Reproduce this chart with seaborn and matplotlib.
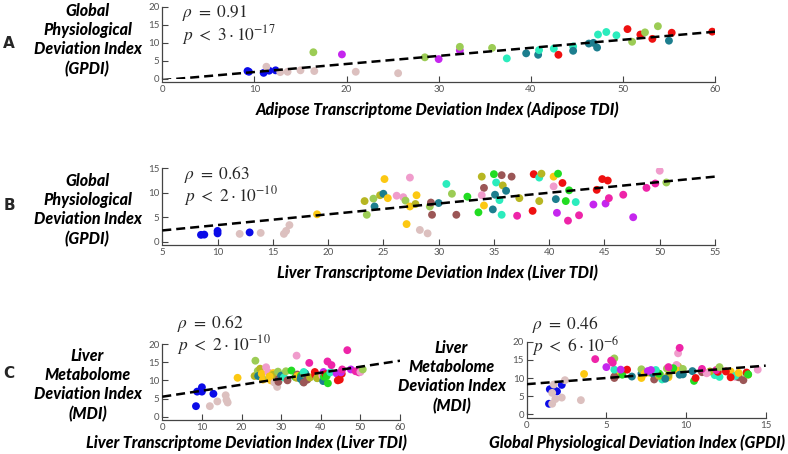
import matplotlib
matplotlib.use("Agg")
import matplotlib.pyplot as plt
import numpy as np
import pandas as pd
import seaborn as sns

# colour of each sample group
palette = {
    "blue": "#0b0be8",
    "rosy": "#dcc0bf",
    "ygreen": "#9ccc55",
    "purple": "#c526ee",
    "cyan": "#2becbd",
    "teal": "#1c7e8e",
    "red": "#ee1010",
    "gold": "#fcc812",
    "olive": "#b7b622",
    "brown": "#9b5656",
    "green": "#22dc22",
    "hpink": "#ee24a8",
    "lpink": "#f09ccc",
}

# Panel A: adipose TDI vs GPDI
adipose_tdi = [9.25, 9.4, 11.0, 11.6, 12.3, 11.3, 12.8, 13.6, 15.0, 16.5, 21.0, 25.6,
               16.4, 19.5, 28.5, 30.0, 32.3, 32.3, 35.8, 37.4, 39.5, 40.8, 40.9, 42.5,
               43.0, 44.6, 44.6, 46.3, 46.8, 47.2, 47.3, 48.2, 49.3, 50.5, 51.9, 52.4,
               51.0, 53.2, 53.8, 55.3, 55.0, 59.7]
adipose_gpdi = [2.2, 2.0, 1.7, 2.3, 2.4, 3.4, 1.9, 2.0, 2.4, 2.2, 2.0, 1.6,
                7.4, 6.8, 6.0, 5.5, 7.9, 8.9, 8.6, 5.7, 7.1, 6.7, 8.0, 8.4,
                6.7, 9.0, 7.8, 9.8, 10.0, 8.7, 12.3, 13.0, 12.1, 13.8, 12.3, 12.9,
                10.3, 11.1, 14.6, 12.8, 10.6, 13.1]
adipose_group = ["blue"] * 5 + ["rosy"] * 7 + [
    "ygreen", "purple", "ygreen", "purple", "purple", "ygreen", "ygreen", "cyan",
    "teal", "teal", "cyan", "cyan", "red", "cyan", "teal", "teal", "teal", "teal",
    "cyan", "cyan", "cyan", "red", "red", "ygreen", "ygreen", "red", "ygreen",
    "red", "teal", "red"]

# Panels B and C: liver samples (Liver TDI, GPDI, MDI)
liver_tdi = [8.5, 8.8, 10.0, 10.0, 12.0, 12.9, 13.9, 16.0, 16.2, 16.5,
             19.0, 23.3, 23.5, 24.1, 24.2, 24.7, 25.0, 25.1, 25.4, 26.2,
             26.8, 27.0, 27.4, 27.4, 28.0, 27.9, 27.1, 28.3, 29.0, 29.2,
             29.3, 29.4, 30.0, 30.7, 31.2, 31.6, 32.6, 33.6, 33.9, 34.1,
             33.9, 34.1, 35.0, 35.1, 35.2, 35.5, 34.9, 35.7, 35.8, 36.1,
             35.7, 36.6, 37.1, 37.3, 38.6, 38.5, 39.1, 39.3, 39.1, 40.4,
             40.4, 40.6, 40.7, 40.8, 41.2, 41.8, 41.5, 41.7, 42.4, 42.7,
             44.0, 44.3, 44.8, 45.3, 45.1, 45.4, 46.7, 47.6, 48.8, 49.6,
             50.0, 50.6]
liver_gpdi = [1.4, 1.45, 2.2, 1.7, 1.6, 1.9, 1.8, 1.6, 2.2, 3.4,
              5.6, 8.3, 5.5, 8.8, 7.2, 9.5, 9.8, 12.8, 8.9, 9.4,
              9.1, 8.4, 13.1, 7.2, 9.5, 7.7, 3.6, 2.4, 1.7, 7.2,
              8.0, 5.5, 7.9, 11.8, 9.8, 5.5, 9.2, 6.0, 13.3, 11.0,
              9.5, 7.4, 13.8, 9.6, 12.1, 8.5, 6.6, 13.6, 11.5, 10.4,
              5.5, 13.3, 5.3, 8.9, 13.8, 6.3, 13.1, 13.9, 8.3, 13.3,
              11.3, 8.7, 5.9, 13.9, 12.0, 10.5, 8.3, 4.3, 8.1, 5.4,
              7.6, 10.6, 12.8, 12.5, 7.8, 8.9, 9.6, 5.0, 11.0, 11.9,
              14.5, 12.1]
liver_mdi = [2.9, 6.9, 8.1, 6.9, 2.9, 6.3, 4.2, 5.9, 4.6, 3.9,
             10.7, 11.2, 15.4, 12.6, 11.2, 13.2, 11.0, 11.8, 10.2, 13.6,
             12.2, 10.8, 10.3, 10.0, 12.0, 11.5, 11.1, 9.4, 8.2, 12.4,
             9.6, 10.4, 11.3, 10.8, 12.5, 10.0, 12.7, 10.9, 10.7, 11.6,
             16.8, 11.2, 11.3, 10.9, 10.3, 9.6, 10.4, 9.4, 11.8, 11.9,
             12.3, 10.2, 14.8, 10.8, 11.5, 12.3, 10.6, 10.9, 10.6, 11.4,
             11.3, 9.8, 12.3, 11.0, 11.7, 9.2, 11.2, 15.2, 12.2, 14.2,
             11.9, 10.0, 10.2, 11.8, 12.2, 13.0, 18.3, 13.0, 12.5, 12.2,
             12.3, 13.0]
liver_group = ["blue", "blue", "blue", "blue", "rosy", "blue", "rosy", "rosy", "rosy", "rosy",
               "gold", "olive", "ygreen", "ygreen", "teal", "olive", "teal", "gold", "gold", "lpink",
               "lpink", "ygreen", "lpink", "gold", "gold", "olive", "gold", "rosy", "rosy", "ygreen",
               "brown", "brown", "teal", "cyan", "ygreen", "brown", "green", "green", "olive", "brown",
               "lpink", "gold", "green", "teal", "cyan", "cyan", "teal", "brown", "olive", "teal",
               "cyan", "brown", "hpink", "olive", "red", "red", "cyan", "olive", "olive", "gold",
               "lpink", "teal", "purple", "green", "red", "green", "green", "hpink", "cyan", "hpink",
               "purple", "red", "red", "red", "purple", "hpink", "hpink", "purple", "hpink", "hpink",
               "lpink", "ygreen"]

# dashed fit lines: (intercept, slope)
fit_a = (-0.3, 0.223)
fit_b = (1.2, 0.22)
fit_c1 = (5.5, 0.165)
fit_c2 = (8.3, 0.34)

stat_rho = ["0.91", "0.63", "0.62", "0.46"]
stat_p = [r"3\cdot10^{-17}", r"2\cdot10^{-10}", r"2\cdot10^{-10}", r"6\cdot10^{-6}"]

sns.set_theme(style="ticks")
plt.rcParams["font.family"] = ["Lato", "DejaVu Sans"]
plt.rcParams["mathtext.fontset"] = "stix"

W, H = 788, 454
fig = plt.figure(figsize=(W / 100, H / 100), dpi=100)


def box(left, top, right, bottom):
    # pixel box -> figure fraction rect
    return [left / W, 1 - bottom / H, (right - left) / W, (bottom - top) / H]


def fx(x):
    return x / W


def fy(y):
    return 1 - y / H


label_kw = dict(fontsize=11.5, fontweight="black", fontstyle="italic", color="black")


def panel(rect, x, y, group, fit, xlim, ylim, xticks, yticks, xlabel, xlab_pos):
    ax = fig.add_axes(rect)
    df = pd.DataFrame({"x": x, "y": y, "g": group})
    sns.scatterplot(data=df, x="x", y="y", hue="g", palette=palette, s=32,
                    linewidth=0, legend=False, ax=ax, zorder=2)
    xs = np.array(xlim, dtype=float)
    ax.plot(xs, fit[0] + fit[1] * xs, color="black", lw=1.8,
            dashes=(3.6, 2.0), zorder=3)
    ax.set_xlim(xlim)
    ax.set_ylim(ylim)
    ax.set_xticks(xticks)
    ax.set_yticks(yticks)
    ax.set_xlabel("")
    ax.set_ylabel("")
    sns.despine(ax=ax)
    ax.spines["bottom"].set_position(("outward", 2.5))
    for s in ["left", "bottom"]:
        ax.spines[s].set_color("#444444")
        ax.spines[s].set_linewidth(0.9)
    ax.tick_params(direction="in", length=4, width=0.8, color="#444444",
                   labelsize=7, labelcolor="#555555", pad=2)
    ax.patch.set_alpha(0)
    fig.text(fx(xlab_pos[0]), fy(xlab_pos[1]), xlabel, ha="center", va="center", **label_kw)
    return ax


def ylabel(text, cx, cy):
    fig.text(fx(cx), fy(cy), text, ha="center", va="center", linespacing=1.25, **label_kw)


def stats(i, x, yc):
    # rho and p on two lines of one text
    txt = r"$\rho\ =\ %s$" % stat_rho[i] + "\n" + r"$p\ <\ %s$" % stat_p[i]
    fig.text(fx(x), fy(yc), txt, fontsize=12.5, va="center", ha="left", linespacing=0.95)


# A
panel(box(162.3, 6.7, 715, 79), adipose_tdi, adipose_gpdi, adipose_group, fit_a,
      (0, 60), (0, 20), range(0, 61, 10), range(0, 21, 5),
      "Adipose Transcriptome Deviation Index (Adipose TDI)", (438, 110))
ylabel("Global\nPhysiological\nDeviation Index\n(GPDI)", 87.5, 40)
stats(0, 182, 25)
fig.text(fx(9), fy(43), "A", fontsize=11, fontweight="bold", family="DejaVu Sans",
         ha="center", va="center")

# B
panel(box(162.3, 168.3, 715, 241.7), liver_tdi, liver_gpdi, liver_group, fit_b,
      (5, 55), (0, 15), range(5, 56, 5), range(0, 16, 5),
      "Liver Transcriptome Deviation Index (Liver TDI)", (438, 273))
ylabel("Global\nPhysiological\nDeviation Index\n(GPDI)", 87.5, 210)
stats(1, 184, 186)
fig.text(fx(9), fy(205), "B", fontsize=11, fontweight="bold", family="DejaVu Sans",
         ha="center", va="center")

# C left
panel(box(162.3, 344, 400, 416.7), liver_tdi, liver_mdi, liver_group, fit_c1,
      (0, 60), (0, 20), range(0, 61, 10), range(0, 21, 5),
      "Liver Transcriptome Deviation Index (Liver TDI)", (246, 443))
ylabel("Liver\nMetabolome\nDeviation Index\n(MDI)", 87.5, 385)
stats(2, 177, 335)
fig.text(fx(9), fy(373), "C", fontsize=11, fontweight="bold", family="DejaVu Sans",
         ha="center", va="center")

# C right
panel(box(526.7, 341.7, 765.7, 414.3), liver_gpdi, liver_mdi, liver_group, fit_c2,
      (0, 15), (0, 20), range(0, 16, 5), range(0, 21, 5),
      "Global Physiological Deviation Index (GPDI)", (637, 443))
ylabel("Liver\nMetabolome\nDeviation Index\n(MDI)", 451.5, 377)
stats(3, 532, 336)

fig.savefig("out.png", dpi=100)
